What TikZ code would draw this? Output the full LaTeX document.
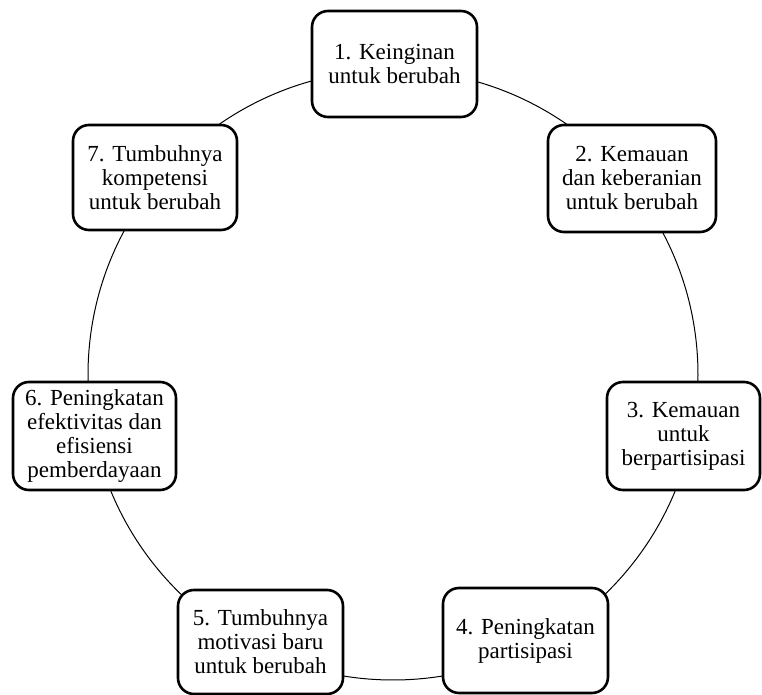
\documentclass[tikz,border=0pt]{standalone}
\usepackage{fontspec}
\setmainfont{Liberation Serif}
\tikzset{
    stage/.style={draw, line width=1.3pt, rounded corners=8pt, fill=white,
        align=center, inner sep=2pt, font=\fontsize{11.5}{12}\selectfont}
}

\begin{document}
\begin{tikzpicture}[x=0.5pt,y=-0.5pt]
    \useasboundingbox (0,0) rectangle (762,695);
    % cycle behind the stages
    \draw[line width=0.5pt] (393,375) circle [radius=152.5pt];
    \node[stage, minimum width=82.5pt, minimum height=53pt] (s1) at (394.5,64) {1. Keinginan\\untuk berubah};
    \node[stage, minimum width=84pt, minimum height=53.5pt] (s2) at (632,178.5) {2. Kemauan\\dan keberanian\\untuk berubah};
    \node[stage, minimum width=76.5pt, minimum height=54pt] (s3) at (683.5,436) {3. Kemauan\\untuk\\berpartisipasi};
    \node[stage, minimum width=82.5pt, minimum height=52.5pt] (s4) at (525.5,640.5) {4. Peningkatan\\partisipasi};
    \node[stage, minimum width=82.5pt, minimum height=52pt] (s5) at (260.5,642) {5. Tumbuhnya\\motivasi baru\\untuk berubah};
    \node[stage, minimum width=81.5pt, minimum height=54pt] (s6) at (94.5,436) {6. Peningkatan\\efektivitas dan\\efisiensi\\pemberdayaan};
    \node[stage, minimum width=82pt, minimum height=52.5pt] (s7) at (155,177.5) {7. Tumbuhnya\\kompetensi\\untuk berubah};
\end{tikzpicture}
\end{document}
